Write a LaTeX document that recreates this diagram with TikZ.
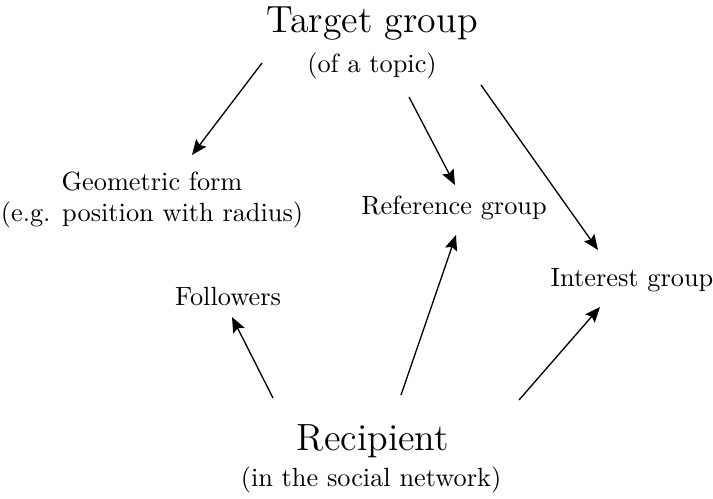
\documentclass[tikz,border=0pt]{standalone}
\usetikzlibrary{arrows.meta}
\begin{document}
\begin{tikzpicture}[x=0.38pt,y=-0.38pt,
  arr/.style={line width=0.5pt,-{Stealth[length=5.8pt,width=4.8pt,inset=1pt]}},
  big/.style={font=\Large,inner sep=0pt,anchor=base},
  small/.style={font=\normalsize,inner sep=0pt,anchor=base},
  lbl/.style={font=\normalsize,inner sep=0pt,align=center}]
\useasboundingbox (0,0) rectangle (713,498);
\node[big]   (tg)   at (372,32)  {Target group};
\node[small] (tgs)  at (372,72)  {(of a topic)};
\node[lbl]   (geo)  at (152,200) {Geometric form\\(e.g. position with radius)};
\node[lbl]   (ref)  at (454,208) {Reference group};
\node[lbl]   (int)  at (632,280) {Interest group};
\node[lbl]   (fol)  at (228,296) {Followers};
\node[big]   (rec)  at (373,450) {Recipient};
\node[small] (recs) at (371,486) {(in the social network)};
\draw[arr] ([shift={(-110,31)}]tg.base) -- ([shift={(40,-45)}]geo.center);
\draw[arr] ([shift={(37,65)}]tg.base) -- ([shift={(1,-23)}]ref.center);
\draw[arr] ([shift={(109,53)}]tg.base) -- ([shift={(-34,-30)}]int.center);
\draw[arr] ([shift={(-100,-52)}]rec.base) -- ([shift={(4,21)}]fol.center);
\draw[arr] ([shift={(28,-55)}]rec.base) -- ([shift={(2,27)}]ref.center);
\draw[arr] ([shift={(146,-50)}]rec.base) -- ([shift={(-32,27)}]int.center);
\end{tikzpicture}
\end{document}
